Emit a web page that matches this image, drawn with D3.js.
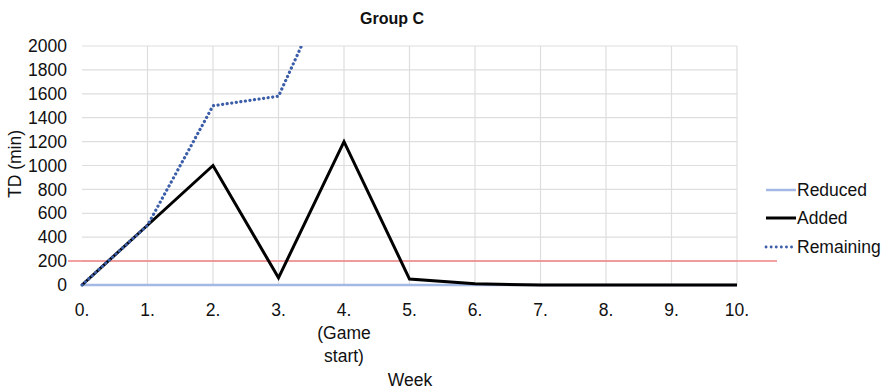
<!DOCTYPE html>
<html><head><meta charset="utf-8">
<script src="https://cdn.jsdelivr.net/npm/d3@7"></script>
<style>body{margin:0;background:#fff}svg{font-family:"Liberation Sans",Arial,sans-serif}</style>
</head><body><svg id="c" width="890" height="392"></svg>
<script>
const weeks = [0,1,2,3,4,5,6,7,8,9,10];
const weekLabels = ["0.","1.","2.","3.","4.\n(Game\nstart)","5.","6.","7.","8.","9.","10."];
const reduced = [0,0,0,0,0,0,0,0,0,0,0];
const added = [0,500,1000,60,1200,50,10,0,0,0,0];
const remaining = [0,500,1500,1580,2780,2830,2840,2840,2840,2840,2840];
const yTicks = [0,200,400,600,800,1000,1200,1400,1600,1800,2000];
const threshold = 200;
const seriesNames = ["Reduced","Added","Remaining"];

const svg = d3.select("#c");
const x = d3.scaleLinear().domain([0,10]).range([82,737]);
const y = d3.scaleLinear().domain([0,2000]).range([285,46]);
const fs = 17.5;

// grid
svg.append("g").selectAll("line").data(yTicks.slice(1)).join("line")
  .attr("x1",x(0)).attr("x2",x(10)).attr("y1",d=>y(d)).attr("y2",d=>y(d))
  .attr("stroke","#dedede").attr("stroke-width",1.2);
svg.append("g").selectAll("line").data(weeks.slice(1)).join("line")
  .attr("x1",d=>x(d)).attr("x2",d=>x(d)).attr("y1",y(0)).attr("y2",y(2000))
  .attr("stroke","#dedede").attr("stroke-width",1.2);

// y axis labels
const yAxis = d3.axisLeft(y).tickValues(yTicks).tickFormat(d3.format("d")).tickSize(0).tickPadding(0);
const ga = svg.append("g").attr("transform","translate(67,0)").call(yAxis);
ga.select(".domain").remove();
ga.selectAll("text").attr("font-size",fs).attr("fill","#111").attr("font-family","Liberation Sans, Arial, sans-serif");

// x labels
const gx = svg.append("g");
weeks.forEach((w,i)=>{
  const t = gx.append("text").attr("x",x(w)).attr("y",316).attr("text-anchor","middle")
    .attr("font-size",fs).attr("fill","#111");
  weekLabels[i].split("\n").forEach((s,j)=>{
    t.append("tspan").attr("x",x(w)).attr("dy", j===0?0:23).text(s);
  });
});

// threshold
svg.append("line").attr("x1",68).attr("x2",777).attr("y1",y(threshold)).attr("y2",y(threshold))
  .attr("stroke","#f08282").attr("stroke-width",1.5);

// clip
svg.append("clipPath").attr("id","pc").append("rect")
  .attr("x",0).attr("y",y(2000)).attr("width",890).attr("height",300);

const line = d3.line().x((d,i)=>x(weeks[i])).y(d=>y(d));
const g = svg.append("g").attr("clip-path","url(#pc)");
g.append("path").attr("d",line(reduced)).attr("fill","none").attr("stroke","#a4b8e4").attr("stroke-width",2.5);
g.append("path").attr("d",line(added)).attr("fill","none").attr("stroke","#000").attr("stroke-width",3).attr("stroke-linejoin","miter");
g.append("path").attr("d",line(remaining)).attr("fill","none").attr("stroke","#3c5ea8").attr("stroke-width",3.2)
  .attr("stroke-dasharray","0.1 4.5").attr("stroke-linecap","round");

// legend
const leg = [{n:seriesNames[0],c:"#a4b8e4",w:2.5,da:null,cap:"butt",y:190},
             {n:seriesNames[1],c:"#000",w:3,da:null,cap:"butt",y:218},
             {n:seriesNames[2],c:"#3c5ea8",w:2.8,da:"0.1 5",cap:"round",y:247}];
leg.forEach(l=>{
  svg.append("line").attr("x1",766).attr("x2",796).attr("y1",l.y).attr("y2",l.y)
    .attr("stroke",l.c).attr("stroke-width",l.w).attr("stroke-dasharray",l.da).attr("stroke-linecap",l.cap);
  svg.append("text").attr("x",797).attr("y",l.y).attr("dy","0.35em").attr("font-size",fs).attr("fill","#111").text(l.n);
});

// titles
svg.append("text").attr("x",392).attr("y",24).attr("text-anchor","middle").attr("font-size",16)
  .attr("font-weight","bold").attr("fill","#111").text("Group C");
svg.append("text").attr("x",410).attr("y",386).attr("text-anchor","middle").attr("font-size",fs)
  .attr("fill","#111").text("Week");
svg.append("text").attr("transform","translate(21,164) rotate(-90)").attr("text-anchor","middle")
  .attr("font-size",fs).attr("fill","#111").text("TD (min)");
</script></body></html>
